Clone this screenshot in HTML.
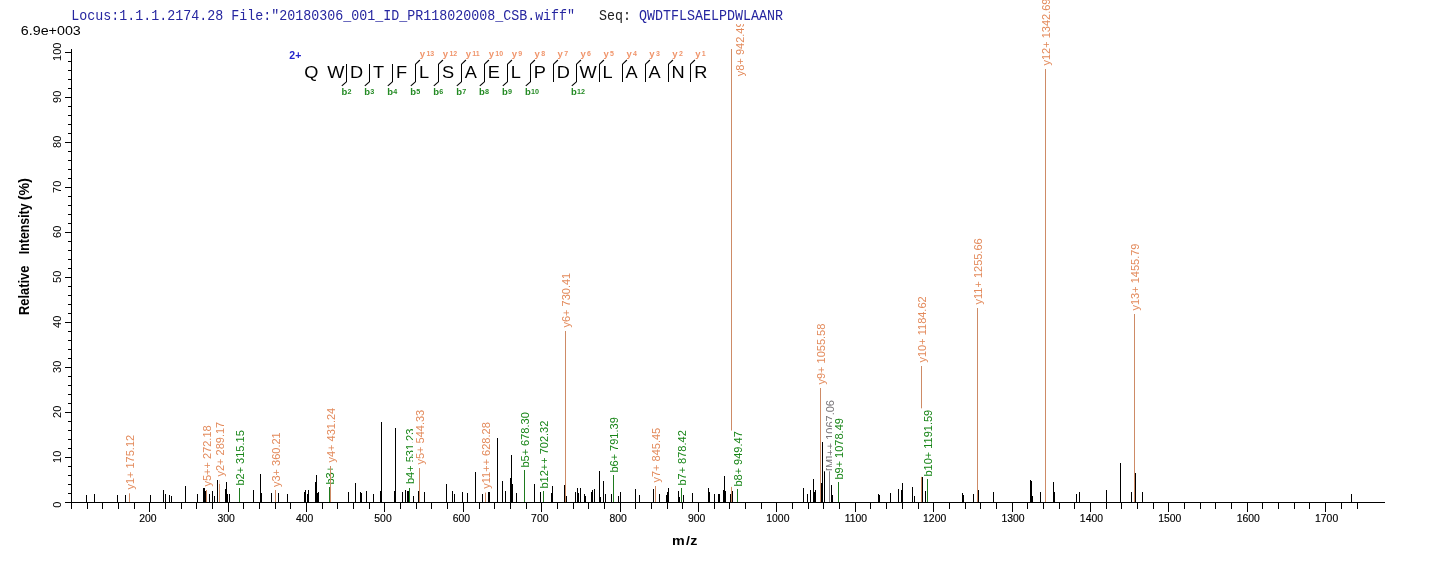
<!DOCTYPE html>
<html lang="en"><head><meta charset="utf-8"><title>Spectrum</title>
<style>html,body{margin:0;padding:0;background:#fff}body{width:1436px;height:562px;overflow:hidden}svg{display:block}text{font-family:"Liberation Sans",Arial,Helvetica,sans-serif}.mono{font-family:"Liberation Mono","Courier New",monospace;font-size:13.33px}.tk{font-size:11px;fill:#000}.lab{font-size:11px}.seq{font-size:15.9px;fill:#000}.yl{font-weight:bold;fill:#F0946A}.bl{font-weight:bold;fill:#238A23}</style></head><body>
<svg width="1436" height="562" viewBox="0 0 1436 562">
<rect width="1436" height="562" fill="#fff"/>
<g shape-rendering="crispEdges">
<rect x="86" y="495" width="1" height="7" fill="#000000"/>
<rect x="94" y="494" width="1" height="8" fill="#000000"/>
<rect x="117" y="495" width="1" height="7" fill="#000000"/>
<rect x="125" y="495" width="1" height="7" fill="#000000"/>
<rect x="150" y="495" width="1" height="7" fill="#000000"/>
<rect x="163" y="490" width="1" height="12" fill="#000000"/>
<rect x="165" y="494" width="1" height="8" fill="#000000"/>
<rect x="169" y="495" width="1" height="7" fill="#000000"/>
<rect x="171" y="496" width="1" height="6" fill="#000000"/>
<rect x="185" y="486" width="1" height="16" fill="#000000"/>
<rect x="197" y="494" width="1" height="8" fill="#000000"/>
<rect x="203" y="488" width="1" height="14" fill="#000000"/>
<rect x="204" y="488" width="1" height="14" fill="#000000"/>
<rect x="205" y="491" width="1" height="11" fill="#000000"/>
<rect x="209" y="494" width="1" height="8" fill="#000000"/>
<rect x="212" y="491" width="1" height="11" fill="#000000"/>
<rect x="214" y="496" width="1" height="6" fill="#000000"/>
<rect x="217" y="480" width="1" height="22" fill="#000000"/>
<rect x="225" y="489" width="1" height="13" fill="#000000"/>
<rect x="226" y="482" width="1" height="20" fill="#000000"/>
<rect x="227" y="494" width="1" height="8" fill="#000000"/>
<rect x="229" y="494" width="1" height="8" fill="#000000"/>
<rect x="253" y="490" width="1" height="12" fill="#000000"/>
<rect x="260" y="474" width="1" height="28" fill="#000000"/>
<rect x="261" y="493" width="1" height="9" fill="#000000"/>
<rect x="271" y="493" width="1" height="9" fill="#000000"/>
<rect x="278" y="493" width="1" height="9" fill="#000000"/>
<rect x="287" y="494" width="1" height="8" fill="#000000"/>
<rect x="304" y="492" width="1" height="10" fill="#000000"/>
<rect x="305" y="490" width="1" height="12" fill="#000000"/>
<rect x="307" y="494" width="1" height="8" fill="#000000"/>
<rect x="308" y="490" width="1" height="12" fill="#000000"/>
<rect x="315" y="482" width="1" height="20" fill="#000000"/>
<rect x="316" y="475" width="1" height="27" fill="#000000"/>
<rect x="317" y="493" width="1" height="9" fill="#000000"/>
<rect x="318" y="492" width="1" height="10" fill="#000000"/>
<rect x="348" y="492" width="1" height="10" fill="#000000"/>
<rect x="355" y="483" width="1" height="19" fill="#000000"/>
<rect x="360" y="492" width="1" height="10" fill="#000000"/>
<rect x="361" y="493" width="1" height="9" fill="#000000"/>
<rect x="366" y="491" width="1" height="11" fill="#000000"/>
<rect x="373" y="494" width="1" height="8" fill="#000000"/>
<rect x="380" y="491" width="1" height="11" fill="#000000"/>
<rect x="381" y="422" width="1" height="80" fill="#000000"/>
<rect x="394" y="491" width="1" height="11" fill="#000000"/>
<rect x="395" y="428" width="1" height="74" fill="#000000"/>
<rect x="402" y="492" width="1" height="10" fill="#000000"/>
<rect x="405" y="490" width="1" height="12" fill="#000000"/>
<rect x="407" y="491" width="1" height="11" fill="#000000"/>
<rect x="408" y="491" width="1" height="11" fill="#000000"/>
<rect x="413" y="496" width="1" height="6" fill="#000000"/>
<rect x="418" y="491" width="1" height="11" fill="#000000"/>
<rect x="424" y="492" width="1" height="10" fill="#000000"/>
<rect x="446" y="484" width="1" height="18" fill="#000000"/>
<rect x="452" y="491" width="1" height="11" fill="#000000"/>
<rect x="454" y="494" width="1" height="8" fill="#000000"/>
<rect x="462" y="492" width="1" height="10" fill="#000000"/>
<rect x="467" y="493" width="1" height="9" fill="#000000"/>
<rect x="475" y="472" width="1" height="30" fill="#000000"/>
<rect x="482" y="494" width="1" height="8" fill="#000000"/>
<rect x="488" y="492" width="1" height="10" fill="#000000"/>
<rect x="489" y="492" width="1" height="10" fill="#000000"/>
<rect x="497" y="438" width="1" height="64" fill="#000000"/>
<rect x="502" y="481" width="1" height="21" fill="#000000"/>
<rect x="505" y="491" width="1" height="11" fill="#000000"/>
<rect x="510" y="478" width="1" height="24" fill="#000000"/>
<rect x="511" y="455" width="1" height="47" fill="#000000"/>
<rect x="512" y="484" width="1" height="18" fill="#000000"/>
<rect x="516" y="493" width="1" height="9" fill="#000000"/>
<rect x="534" y="484" width="1" height="18" fill="#000000"/>
<rect x="540" y="492" width="1" height="10" fill="#000000"/>
<rect x="551" y="493" width="1" height="9" fill="#000000"/>
<rect x="552" y="486" width="1" height="16" fill="#000000"/>
<rect x="564" y="485" width="1" height="17" fill="#000000"/>
<rect x="566" y="496" width="1" height="6" fill="#000000"/>
<rect x="575" y="492" width="1" height="10" fill="#000000"/>
<rect x="577" y="488" width="1" height="14" fill="#000000"/>
<rect x="578" y="493" width="1" height="9" fill="#000000"/>
<rect x="580" y="488" width="1" height="14" fill="#000000"/>
<rect x="584" y="494" width="1" height="8" fill="#000000"/>
<rect x="585" y="496" width="1" height="6" fill="#000000"/>
<rect x="591" y="492" width="1" height="10" fill="#000000"/>
<rect x="592" y="490" width="1" height="12" fill="#000000"/>
<rect x="594" y="489" width="1" height="13" fill="#000000"/>
<rect x="599" y="471" width="1" height="31" fill="#000000"/>
<rect x="600" y="497" width="1" height="5" fill="#000000"/>
<rect x="603" y="481" width="1" height="21" fill="#000000"/>
<rect x="605" y="494" width="1" height="8" fill="#000000"/>
<rect x="611" y="494" width="1" height="8" fill="#000000"/>
<rect x="618" y="496" width="1" height="6" fill="#000000"/>
<rect x="620" y="492" width="1" height="10" fill="#000000"/>
<rect x="635" y="489" width="1" height="13" fill="#000000"/>
<rect x="639" y="495" width="1" height="7" fill="#000000"/>
<rect x="653" y="489" width="1" height="13" fill="#000000"/>
<rect x="659" y="494" width="1" height="8" fill="#000000"/>
<rect x="666" y="495" width="1" height="7" fill="#000000"/>
<rect x="667" y="492" width="1" height="10" fill="#000000"/>
<rect x="668" y="488" width="1" height="14" fill="#000000"/>
<rect x="678" y="491" width="1" height="11" fill="#000000"/>
<rect x="679" y="497" width="1" height="5" fill="#000000"/>
<rect x="683" y="495" width="1" height="7" fill="#000000"/>
<rect x="692" y="493" width="1" height="9" fill="#000000"/>
<rect x="708" y="488" width="1" height="14" fill="#000000"/>
<rect x="709" y="492" width="1" height="10" fill="#000000"/>
<rect x="714" y="494" width="1" height="8" fill="#000000"/>
<rect x="718" y="494" width="1" height="8" fill="#000000"/>
<rect x="719" y="494" width="1" height="8" fill="#000000"/>
<rect x="723" y="490" width="1" height="12" fill="#000000"/>
<rect x="724" y="476" width="1" height="26" fill="#000000"/>
<rect x="725" y="491" width="1" height="11" fill="#000000"/>
<rect x="730" y="494" width="1" height="8" fill="#000000"/>
<rect x="732" y="491" width="1" height="11" fill="#000000"/>
<rect x="803" y="488" width="1" height="14" fill="#000000"/>
<rect x="807" y="494" width="1" height="8" fill="#000000"/>
<rect x="810" y="490" width="1" height="12" fill="#000000"/>
<rect x="813" y="479" width="1" height="23" fill="#000000"/>
<rect x="814" y="492" width="1" height="10" fill="#000000"/>
<rect x="815" y="490" width="1" height="12" fill="#000000"/>
<rect x="821" y="483" width="1" height="19" fill="#000000"/>
<rect x="822" y="442" width="1" height="60" fill="#000000"/>
<rect x="824" y="471" width="1" height="31" fill="#000000"/>
<rect x="831" y="485" width="1" height="17" fill="#000000"/>
<rect x="832" y="495" width="1" height="7" fill="#000000"/>
<rect x="878" y="494" width="1" height="8" fill="#000000"/>
<rect x="879" y="495" width="1" height="7" fill="#000000"/>
<rect x="890" y="493" width="1" height="9" fill="#000000"/>
<rect x="898" y="489" width="1" height="13" fill="#000000"/>
<rect x="901" y="490" width="1" height="12" fill="#000000"/>
<rect x="902" y="483" width="1" height="19" fill="#000000"/>
<rect x="912" y="487" width="1" height="15" fill="#000000"/>
<rect x="914" y="496" width="1" height="6" fill="#000000"/>
<rect x="922" y="477" width="1" height="25" fill="#000000"/>
<rect x="925" y="491" width="1" height="11" fill="#000000"/>
<rect x="962" y="493" width="1" height="9" fill="#000000"/>
<rect x="963" y="495" width="1" height="7" fill="#000000"/>
<rect x="973" y="494" width="1" height="8" fill="#000000"/>
<rect x="978" y="490" width="1" height="12" fill="#000000"/>
<rect x="993" y="492" width="1" height="10" fill="#000000"/>
<rect x="1030" y="480" width="1" height="22" fill="#000000"/>
<rect x="1031" y="481" width="1" height="21" fill="#000000"/>
<rect x="1032" y="496" width="1" height="6" fill="#000000"/>
<rect x="1040" y="492" width="1" height="10" fill="#000000"/>
<rect x="1053" y="482" width="1" height="20" fill="#000000"/>
<rect x="1054" y="492" width="1" height="10" fill="#000000"/>
<rect x="1076" y="494" width="1" height="8" fill="#000000"/>
<rect x="1079" y="492" width="1" height="10" fill="#000000"/>
<rect x="1106" y="490" width="1" height="12" fill="#000000"/>
<rect x="1120" y="463" width="1" height="39" fill="#000000"/>
<rect x="1131" y="492" width="1" height="10" fill="#000000"/>
<rect x="1135" y="473" width="1" height="29" fill="#000000"/>
<rect x="1142" y="492" width="1" height="10" fill="#000000"/>
<rect x="1351" y="494" width="1" height="8" fill="#000000"/>
</g>
<g>
<rect x="129" y="493.3" width="1" height="8.7" fill="#CE8B66"/>
<rect x="123" y="434.164" width="13" height="55.736" fill="#fff"/>
<text class="lab" fill="#E38A5B" transform="translate(133.8 489.6) rotate(-90)">y1+ 175.12</text>
</g>
<g>
<rect x="206" y="490" width="1" height="12" fill="#CE8B66"/>
<rect x="200" y="424.64" width="13" height="62.16" fill="#fff"/>
<text class="lab" fill="#E38A5B" transform="translate(210.8 486.5) rotate(-90)">y5++ 272.18</text>
</g>
<g>
<rect x="219" y="480" width="1" height="22" fill="#CE8B66"/>
<rect x="219" y="480" width="1" height="4" fill="#EFD9D2"/>
<rect x="213" y="421.064" width="13" height="55.736" fill="#fff"/>
<text class="lab" fill="#E38A5B" transform="translate(223.8 476.5) rotate(-90)">y2+ 289.17</text>
</g>
<g>
<rect x="239" y="488" width="1" height="14" fill="#1E7A1E"/>
<rect x="233" y="429.548" width="13" height="56.352" fill="#fff"/>
<text class="lab" fill="#178517" transform="translate(243.8 485.6) rotate(-90)">b2+ 315.15</text>
</g>
<g>
<rect x="275" y="490" width="1" height="12" fill="#CE8B66"/>
<rect x="269" y="431.564" width="13" height="55.736" fill="#fff"/>
<text class="lab" fill="#E38A5B" transform="translate(279.8 487) rotate(-90)">y3+ 360.21</text>
</g>
<g>
<rect x="329" y="487" width="1" height="15" fill="#1E7A1E"/>
<rect x="323" y="465.244" width="13" height="19.656" fill="#fff"/>
<text class="lab" fill="#178517" transform="translate(333.8 484.6) rotate(-90)">b3+</text>
</g>
<g>
<rect x="330" y="466" width="1" height="36" fill="#CE8B66"/>
<rect x="324" y="407.064" width="13" height="55.736" fill="#fff"/>
<text class="lab" fill="#E38A5B" transform="translate(334.8 462.5) rotate(-90)">y4+ 431.24</text>
</g>
<g>
<rect x="409" y="488" width="1" height="14" fill="#1E7A1E"/>
<rect x="403" y="427.948" width="13" height="56.352" fill="#fff"/>
<text class="lab" fill="#178517" transform="translate(413.8 484) rotate(-90)">b4+ 531.23</text>
</g>
<g>
<rect x="419" y="468" width="1" height="34" fill="#CE8B66"/>
<rect x="413" y="409.064" width="13" height="55.736" fill="#fff"/>
<text class="lab" fill="#E38A5B" transform="translate(423.8 464.5) rotate(-90)">y5+ 544.33</text>
</g>
<g>
<rect x="485" y="492.6" width="1" height="9.4" fill="#CE8B66"/>
<rect x="479" y="420.724" width="13" height="68.276" fill="#fff"/>
<text class="lab" fill="#E38A5B" transform="translate(489.8 488.7) rotate(-90)">y11++ 628.28</text>
</g>
<g>
<rect x="524" y="470" width="1" height="32" fill="#1E7A1E"/>
<rect x="518" y="411.548" width="13" height="56.352" fill="#fff"/>
<text class="lab" fill="#178517" transform="translate(528.8 467.6) rotate(-90)">b5+ 678.30</text>
</g>
<g>
<rect x="543" y="491" width="1" height="11" fill="#1E7A1E"/>
<rect x="537" y="420.008" width="13" height="68.892" fill="#fff"/>
<text class="lab" fill="#178517" transform="translate(547.8 488.6) rotate(-90)">b12++ 702.32</text>
</g>
<g>
<rect x="565" y="331" width="1" height="171" fill="#CE8B66"/>
<rect x="559" y="272.064" width="13" height="55.736" fill="#fff"/>
<text class="lab" fill="#E38A5B" transform="translate(569.8 327.5) rotate(-90)">y6+ 730.41</text>
</g>
<g>
<rect x="613" y="475" width="1" height="27" fill="#1E7A1E"/>
<rect x="607" y="416.548" width="13" height="56.352" fill="#fff"/>
<text class="lab" fill="#178517" transform="translate(617.8 472.6) rotate(-90)">b6+ 791.39</text>
</g>
<g>
<rect x="655" y="486" width="1" height="16" fill="#CE8B66"/>
<rect x="649" y="427.064" width="13" height="55.736" fill="#fff"/>
<text class="lab" fill="#E38A5B" transform="translate(659.8 482.5) rotate(-90)">y7+ 845.45</text>
</g>
<g>
<rect x="681" y="488" width="1" height="14" fill="#1E7A1E"/>
<rect x="675" y="429.548" width="13" height="56.352" fill="#fff"/>
<text class="lab" fill="#178517" transform="translate(685.8 485.6) rotate(-90)">b7+ 878.42</text>
</g>
<g>
<rect x="731" y="49" width="1" height="453" fill="#CE8B66"/>
<rect x="733" y="20.764" width="13" height="55.736" fill="#fff"/>
<text class="lab" fill="#E38A5B" transform="translate(743.6 76.2) rotate(-90)">y8+ 942.49</text>
</g>
<g>
<rect x="737" y="489" width="1" height="13" fill="#1E7A1E"/>
<rect x="731" y="430.548" width="13" height="56.352" fill="#fff"/>
<text class="lab" fill="#178517" transform="translate(741.8 486.6) rotate(-90)">b8+ 949.47</text>
</g>
<g>
<rect x="820" y="388" width="1" height="114" fill="#CE8B66"/>
<rect x="814" y="322.948" width="13" height="61.852" fill="#fff"/>
<text class="lab" fill="#E38A5B" transform="translate(824.8 384.5) rotate(-90)">y9+ 1055.58</text>
</g>
<g>
<rect x="829" y="471" width="1" height="31" fill="#858085"/>
<rect x="823" y="399.361" width="13" height="71.939" fill="#fff"/>
<text class="lab" fill="#7A767A" transform="translate(833.8 471) rotate(-90)">[M]++ 1067.06</text>
</g>
<g>
<rect x="838" y="482" width="1" height="20" fill="#1E7A1E"/>
<rect x="832" y="417.432" width="13" height="62.468" fill="#fff"/>
<text class="lab" fill="#178517" transform="translate(842.8 479.6) rotate(-90)">b9+ 1078.49</text>
</g>
<g>
<rect x="921" y="366" width="1" height="136" fill="#CE8B66"/>
<rect x="915" y="294.832" width="13" height="67.968" fill="#fff"/>
<text class="lab" fill="#E38A5B" transform="translate(925.8 362.5) rotate(-90)">y10+ 1184.62</text>
</g>
<g>
<rect x="927" y="479" width="1" height="23" fill="#1E7A1E"/>
<rect x="921" y="408.316" width="13" height="68.584" fill="#fff"/>
<text class="lab" fill="#178517" transform="translate(931.8 476.6) rotate(-90)">b10+ 1191.59</text>
</g>
<g>
<rect x="977" y="308" width="1" height="194" fill="#CE8B66"/>
<rect x="971" y="236.832" width="13" height="67.968" fill="#fff"/>
<text class="lab" fill="#E38A5B" transform="translate(981.8 304.5) rotate(-90)">y11+ 1255.66</text>
</g>
<g>
<rect x="1045" y="69" width="1" height="433" fill="#CE8B66"/>
<rect x="1039" y="-2.168" width="13" height="67.968" fill="#fff"/>
<text class="lab" fill="#E38A5B" transform="translate(1049.8 65.5) rotate(-90)">y12+ 1342.69</text>
</g>
<g>
<rect x="1134" y="314" width="1" height="188" fill="#CE8B66"/>
<rect x="1128" y="242.832" width="13" height="67.968" fill="#fff"/>
<text class="lab" fill="#E38A5B" transform="translate(1138.8 310.5) rotate(-90)">y13+ 1455.79</text>
</g>
<rect x="60" y="0" width="740" height="24" fill="#fff"/>
<text class="mono" transform="translate(71.3 19.8) scale(1 1.13)" fill="#2626A0" xml:space="preserve">Locus:1.1.1.2174.28 File:"20180306_001_ID_PR118020008_CSB.wiff"   <tspan fill="#222">Seq:</tspan> QWDTFLSAELPDWLAANR</text>
<text x="20.8" y="35.1" font-size="13px" fill="#000" textLength="60" lengthAdjust="spacingAndGlyphs">6.9e+003</text>
<g shape-rendering="crispEdges" fill="#000">
<rect x="65" y="502" width="1320" height="1"/>
<rect x="71" y="49" width="1" height="460"/>
<rect x="87" y="502" width="1" height="7"/>
<rect x="102" y="502" width="1" height="7"/>
<rect x="118" y="502" width="1" height="7"/>
<rect x="134" y="502" width="1" height="7"/>
<rect x="149" y="502" width="1" height="10"/>
<rect x="165" y="502" width="1" height="7"/>
<rect x="181" y="502" width="1" height="7"/>
<rect x="196" y="502" width="1" height="7"/>
<rect x="212" y="502" width="1" height="7"/>
<rect x="228" y="502" width="1" height="10"/>
<rect x="243" y="502" width="1" height="7"/>
<rect x="259" y="502" width="1" height="7"/>
<rect x="275" y="502" width="1" height="7"/>
<rect x="290" y="502" width="1" height="7"/>
<rect x="306" y="502" width="1" height="10"/>
<rect x="322" y="502" width="1" height="7"/>
<rect x="337" y="502" width="1" height="7"/>
<rect x="353" y="502" width="1" height="7"/>
<rect x="369" y="502" width="1" height="7"/>
<rect x="384" y="502" width="1" height="10"/>
<rect x="400" y="502" width="1" height="7"/>
<rect x="416" y="502" width="1" height="7"/>
<rect x="431" y="502" width="1" height="7"/>
<rect x="447" y="502" width="1" height="7"/>
<rect x="463" y="502" width="1" height="10"/>
<rect x="479" y="502" width="1" height="7"/>
<rect x="494" y="502" width="1" height="7"/>
<rect x="510" y="502" width="1" height="7"/>
<rect x="526" y="502" width="1" height="7"/>
<rect x="541" y="502" width="1" height="10"/>
<rect x="557" y="502" width="1" height="7"/>
<rect x="573" y="502" width="1" height="7"/>
<rect x="588" y="502" width="1" height="7"/>
<rect x="604" y="502" width="1" height="7"/>
<rect x="620" y="502" width="1" height="10"/>
<rect x="635" y="502" width="1" height="7"/>
<rect x="651" y="502" width="1" height="7"/>
<rect x="667" y="502" width="1" height="7"/>
<rect x="682" y="502" width="1" height="7"/>
<rect x="698" y="502" width="1" height="10"/>
<rect x="714" y="502" width="1" height="7"/>
<rect x="729" y="502" width="1" height="7"/>
<rect x="745" y="502" width="1" height="7"/>
<rect x="761" y="502" width="1" height="7"/>
<rect x="776" y="502" width="1" height="10"/>
<rect x="792" y="502" width="1" height="7"/>
<rect x="808" y="502" width="1" height="7"/>
<rect x="823" y="502" width="1" height="7"/>
<rect x="839" y="502" width="1" height="7"/>
<rect x="855" y="502" width="1" height="10"/>
<rect x="870" y="502" width="1" height="7"/>
<rect x="886" y="502" width="1" height="7"/>
<rect x="902" y="502" width="1" height="7"/>
<rect x="918" y="502" width="1" height="7"/>
<rect x="933" y="502" width="1" height="10"/>
<rect x="949" y="502" width="1" height="7"/>
<rect x="965" y="502" width="1" height="7"/>
<rect x="980" y="502" width="1" height="7"/>
<rect x="996" y="502" width="1" height="7"/>
<rect x="1012" y="502" width="1" height="10"/>
<rect x="1027" y="502" width="1" height="7"/>
<rect x="1043" y="502" width="1" height="7"/>
<rect x="1059" y="502" width="1" height="7"/>
<rect x="1074" y="502" width="1" height="7"/>
<rect x="1090" y="502" width="1" height="10"/>
<rect x="1106" y="502" width="1" height="7"/>
<rect x="1121" y="502" width="1" height="7"/>
<rect x="1137" y="502" width="1" height="7"/>
<rect x="1153" y="502" width="1" height="7"/>
<rect x="1168" y="502" width="1" height="10"/>
<rect x="1184" y="502" width="1" height="7"/>
<rect x="1200" y="502" width="1" height="7"/>
<rect x="1215" y="502" width="1" height="7"/>
<rect x="1231" y="502" width="1" height="7"/>
<rect x="1247" y="502" width="1" height="10"/>
<rect x="1262" y="502" width="1" height="7"/>
<rect x="1278" y="502" width="1" height="7"/>
<rect x="1294" y="502" width="1" height="7"/>
<rect x="1309" y="502" width="1" height="7"/>
<rect x="1325" y="502" width="1" height="10"/>
<rect x="1341" y="502" width="1" height="7"/>
<rect x="1357" y="502" width="1" height="7"/>
<rect x="68" y="493" width="3" height="1"/>
<rect x="68" y="484" width="3" height="1"/>
<rect x="68" y="475" width="3" height="1"/>
<rect x="68" y="466" width="3" height="1"/>
<rect x="65" y="457" width="6" height="1"/>
<rect x="68" y="448" width="3" height="1"/>
<rect x="68" y="439" width="3" height="1"/>
<rect x="68" y="430" width="3" height="1"/>
<rect x="68" y="421" width="3" height="1"/>
<rect x="65" y="412" width="6" height="1"/>
<rect x="68" y="403" width="3" height="1"/>
<rect x="68" y="394" width="3" height="1"/>
<rect x="68" y="385" width="3" height="1"/>
<rect x="68" y="376" width="3" height="1"/>
<rect x="65" y="367" width="6" height="1"/>
<rect x="68" y="358" width="3" height="1"/>
<rect x="68" y="349" width="3" height="1"/>
<rect x="68" y="340" width="3" height="1"/>
<rect x="68" y="331" width="3" height="1"/>
<rect x="65" y="322" width="6" height="1"/>
<rect x="68" y="313" width="3" height="1"/>
<rect x="68" y="304" width="3" height="1"/>
<rect x="68" y="295" width="3" height="1"/>
<rect x="68" y="286" width="3" height="1"/>
<rect x="65" y="277" width="6" height="1"/>
<rect x="68" y="268" width="3" height="1"/>
<rect x="68" y="259" width="3" height="1"/>
<rect x="68" y="250" width="3" height="1"/>
<rect x="68" y="241" width="3" height="1"/>
<rect x="65" y="232" width="6" height="1"/>
<rect x="68" y="223" width="3" height="1"/>
<rect x="68" y="214" width="3" height="1"/>
<rect x="68" y="205" width="3" height="1"/>
<rect x="68" y="196" width="3" height="1"/>
<rect x="65" y="187" width="6" height="1"/>
<rect x="68" y="178" width="3" height="1"/>
<rect x="68" y="169" width="3" height="1"/>
<rect x="68" y="160" width="3" height="1"/>
<rect x="68" y="151" width="3" height="1"/>
<rect x="65" y="142" width="6" height="1"/>
<rect x="68" y="133" width="3" height="1"/>
<rect x="68" y="124" width="3" height="1"/>
<rect x="68" y="115" width="3" height="1"/>
<rect x="68" y="106" width="3" height="1"/>
<rect x="65" y="97" width="6" height="1"/>
<rect x="68" y="88" width="3" height="1"/>
<rect x="68" y="79" width="3" height="1"/>
<rect x="68" y="70" width="3" height="1"/>
<rect x="68" y="61" width="3" height="1"/>
<rect x="65" y="52" width="6" height="1"/>
</g>
<text class="tk" style="font-size:10.2px;stroke:#000;stroke-width:0.15px" transform="translate(139.15 521.7) scale(1.02 1)">200</text>
<text class="tk" style="font-size:10.2px;stroke:#000;stroke-width:0.15px" transform="translate(217.543 521.7) scale(1.02 1)">300</text>
<text class="tk" style="font-size:10.2px;stroke:#000;stroke-width:0.15px" transform="translate(295.936 521.7) scale(1.02 1)">400</text>
<text class="tk" style="font-size:10.2px;stroke:#000;stroke-width:0.15px" transform="translate(374.329 521.7) scale(1.02 1)">500</text>
<text class="tk" style="font-size:10.2px;stroke:#000;stroke-width:0.15px" transform="translate(452.722 521.7) scale(1.02 1)">600</text>
<text class="tk" style="font-size:10.2px;stroke:#000;stroke-width:0.15px" transform="translate(531.115 521.7) scale(1.02 1)">700</text>
<text class="tk" style="font-size:10.2px;stroke:#000;stroke-width:0.15px" transform="translate(609.508 521.7) scale(1.02 1)">800</text>
<text class="tk" style="font-size:10.2px;stroke:#000;stroke-width:0.15px" transform="translate(687.901 521.7) scale(1.02 1)">900</text>
<text class="tk" style="font-size:10.2px;stroke:#000;stroke-width:0.15px" transform="translate(766.294 521.7) scale(1.02 1)">1000</text>
<text class="tk" style="font-size:10.2px;stroke:#000;stroke-width:0.15px" transform="translate(844.687 521.7) scale(1.02 1)">1100</text>
<text class="tk" style="font-size:10.2px;stroke:#000;stroke-width:0.15px" transform="translate(923.08 521.7) scale(1.02 1)">1200</text>
<text class="tk" style="font-size:10.2px;stroke:#000;stroke-width:0.15px" transform="translate(1001.47 521.7) scale(1.02 1)">1300</text>
<text class="tk" style="font-size:10.2px;stroke:#000;stroke-width:0.15px" transform="translate(1079.87 521.7) scale(1.02 1)">1400</text>
<text class="tk" style="font-size:10.2px;stroke:#000;stroke-width:0.15px" transform="translate(1158.26 521.7) scale(1.02 1)">1500</text>
<text class="tk" style="font-size:10.2px;stroke:#000;stroke-width:0.15px" transform="translate(1236.65 521.7) scale(1.02 1)">1600</text>
<text class="tk" style="font-size:10.2px;stroke:#000;stroke-width:0.15px" transform="translate(1315.05 521.7) scale(1.02 1)">1700</text>
<text class="tk" transform="translate(60.6 504.8) rotate(-90)" text-anchor="middle">0</text>
<text class="tk" transform="translate(60.6 456.8) rotate(-90)" text-anchor="middle">10</text>
<text class="tk" transform="translate(60.6 411.8) rotate(-90)" text-anchor="middle">20</text>
<text class="tk" transform="translate(60.6 366.8) rotate(-90)" text-anchor="middle">30</text>
<text class="tk" transform="translate(60.6 321.8) rotate(-90)" text-anchor="middle">40</text>
<text class="tk" transform="translate(60.6 276.8) rotate(-90)" text-anchor="middle">50</text>
<text class="tk" transform="translate(60.6 231.8) rotate(-90)" text-anchor="middle">60</text>
<text class="tk" transform="translate(60.6 186.8) rotate(-90)" text-anchor="middle">70</text>
<text class="tk" transform="translate(60.6 141.8) rotate(-90)" text-anchor="middle">80</text>
<text class="tk" transform="translate(60.6 96.8) rotate(-90)" text-anchor="middle">90</text>
<text class="tk" transform="translate(60.6 51.8) rotate(-90)" text-anchor="middle">100</text>
<g font-size="13px" font-weight="bold" fill="#000">
<text transform="translate(28.8 315) rotate(-90) scale(1 1.15)" textLength="49.4" lengthAdjust="spacingAndGlyphs">Relative</text>
<text transform="translate(28.8 254.2) rotate(-90) scale(1 1.15)" textLength="50.8" lengthAdjust="spacingAndGlyphs">Intensity</text>
<text transform="translate(28.8 200.3) rotate(-90) scale(1 1.15)" textLength="22.2" lengthAdjust="spacingAndGlyphs">(%)</text>
</g>
<text font-size="13px" font-weight="bold" fill="#000" transform="translate(672 544.9) scale(1.1 1)" x="0 12.7 16.6">m/z</text>
<text class="seq" x="0" y="77.9" transform="translate(304.2 0) scale(1.145 1) translate(0 0)">Q</text>
<text class="seq" x="0" y="77.9" transform="translate(327.15 0) scale(1.145 1) translate(0 0)">W</text>
<text class="seq" x="0" y="77.9" transform="translate(350.1 0) scale(1.145 1) translate(0 0)">D</text>
<text class="seq" x="0" y="77.9" transform="translate(373.05 0) scale(1.145 1) translate(0 0)">T</text>
<text class="seq" x="0" y="77.9" transform="translate(396 0) scale(1.145 1) translate(0 0)">F</text>
<text class="seq" x="0" y="77.9" transform="translate(418.95 0) scale(1.145 1) translate(0 0)">L</text>
<text class="seq" x="0" y="77.9" transform="translate(441.9 0) scale(1.145 1) translate(0 0)">S</text>
<text class="seq" x="0" y="77.9" transform="translate(464.85 0) scale(1.145 1) translate(0 0)">A</text>
<text class="seq" x="0" y="77.9" transform="translate(487.8 0) scale(1.145 1) translate(0 0)">E</text>
<text class="seq" x="0" y="77.9" transform="translate(510.75 0) scale(1.145 1) translate(0 0)">L</text>
<text class="seq" x="0" y="77.9" transform="translate(533.7 0) scale(1.145 1) translate(0 0)">P</text>
<text class="seq" x="0" y="77.9" transform="translate(556.65 0) scale(1.145 1) translate(0 0)">D</text>
<text class="seq" x="0" y="77.9" transform="translate(579.6 0) scale(1.145 1) translate(0 0)">W</text>
<text class="seq" x="0" y="77.9" transform="translate(602.55 0) scale(1.145 1) translate(0 0)">L</text>
<text class="seq" x="0" y="77.9" transform="translate(625.5 0) scale(1.145 1) translate(0 0)">A</text>
<text class="seq" x="0" y="77.9" transform="translate(648.45 0) scale(1.145 1) translate(0 0)">A</text>
<text class="seq" x="0" y="77.9" transform="translate(671.4 0) scale(1.145 1) translate(0 0)">N</text>
<text class="seq" x="0" y="77.9" transform="translate(694.35 0) scale(1.145 1) translate(0 0)">R</text>
<text x="289.3" y="59" font-size="10.5px" font-weight="bold" fill="#2222CC">2+</text>
<rect shape-rendering="crispEdges" x="346" y="64" width="1" height="18" fill="#000"/>
<line x1="346.4" y1="81.8" x2="341.8" y2="85.9" stroke="#000" stroke-width="1.1"/>
<text class="bl" x="341.4" y="95" font-size="9.5px">b<tspan font-size="7.2px" dy="-0.6" dx="0.2">2</tspan></text>
<rect shape-rendering="crispEdges" x="369" y="64" width="1" height="18" fill="#000"/>
<line x1="369.4" y1="81.8" x2="364.8" y2="85.9" stroke="#000" stroke-width="1.1"/>
<text class="bl" x="364.35" y="95" font-size="9.5px">b<tspan font-size="7.2px" dy="-0.6" dx="0.2">3</tspan></text>
<rect shape-rendering="crispEdges" x="392" y="64" width="1" height="18" fill="#000"/>
<line x1="392.4" y1="81.8" x2="387.8" y2="85.9" stroke="#000" stroke-width="1.1"/>
<text class="bl" x="387.3" y="95" font-size="9.5px">b<tspan font-size="7.2px" dy="-0.6" dx="0.2">4</tspan></text>
<rect shape-rendering="crispEdges" x="415" y="64" width="1" height="18" fill="#000"/>
<line x1="415.6" y1="64.2" x2="419.9" y2="60" stroke="#000" stroke-width="1.1"/>
<line x1="415.4" y1="81.8" x2="410.8" y2="85.9" stroke="#000" stroke-width="1.1"/>
<text class="yl" x="419.85" y="56.5" font-size="9.5px">y<tspan font-size="7px" dy="-0.6" dx="1.3">13</tspan></text>
<text class="bl" x="410.25" y="95" font-size="9.5px">b<tspan font-size="7.2px" dy="-0.6" dx="0.2">5</tspan></text>
<rect shape-rendering="crispEdges" x="438" y="64" width="1" height="18" fill="#000"/>
<line x1="438.6" y1="64.2" x2="442.9" y2="60" stroke="#000" stroke-width="1.1"/>
<line x1="438.4" y1="81.8" x2="433.8" y2="85.9" stroke="#000" stroke-width="1.1"/>
<text class="yl" x="442.8" y="56.5" font-size="9.5px">y<tspan font-size="7px" dy="-0.6" dx="1.3">12</tspan></text>
<text class="bl" x="433.2" y="95" font-size="9.5px">b<tspan font-size="7.2px" dy="-0.6" dx="0.2">6</tspan></text>
<rect shape-rendering="crispEdges" x="461" y="64" width="1" height="18" fill="#000"/>
<line x1="461.6" y1="64.2" x2="465.9" y2="60" stroke="#000" stroke-width="1.1"/>
<line x1="461.4" y1="81.8" x2="456.8" y2="85.9" stroke="#000" stroke-width="1.1"/>
<text class="yl" x="465.75" y="56.5" font-size="9.5px">y<tspan font-size="7px" dy="-0.6" dx="1.3">11</tspan></text>
<text class="bl" x="456.15" y="95" font-size="9.5px">b<tspan font-size="7.2px" dy="-0.6" dx="0.2">7</tspan></text>
<rect shape-rendering="crispEdges" x="484" y="64" width="1" height="18" fill="#000"/>
<line x1="484.6" y1="64.2" x2="488.9" y2="60" stroke="#000" stroke-width="1.1"/>
<line x1="484.4" y1="81.8" x2="479.8" y2="85.9" stroke="#000" stroke-width="1.1"/>
<text class="yl" x="488.7" y="56.5" font-size="9.5px">y<tspan font-size="7px" dy="-0.6" dx="1.3">10</tspan></text>
<text class="bl" x="479.1" y="95" font-size="9.5px">b<tspan font-size="7.2px" dy="-0.6" dx="0.2">8</tspan></text>
<rect shape-rendering="crispEdges" x="507" y="64" width="1" height="18" fill="#000"/>
<line x1="507.6" y1="64.2" x2="511.9" y2="60" stroke="#000" stroke-width="1.1"/>
<line x1="507.4" y1="81.8" x2="502.8" y2="85.9" stroke="#000" stroke-width="1.1"/>
<text class="yl" x="511.65" y="56.5" font-size="9.5px">y<tspan font-size="7px" dy="-0.6" dx="1.3">9</tspan></text>
<text class="bl" x="502.05" y="95" font-size="9.5px">b<tspan font-size="7.2px" dy="-0.6" dx="0.2">9</tspan></text>
<rect shape-rendering="crispEdges" x="530" y="64" width="1" height="18" fill="#000"/>
<line x1="530.6" y1="64.2" x2="534.9" y2="60" stroke="#000" stroke-width="1.1"/>
<line x1="530.4" y1="81.8" x2="525.8" y2="85.9" stroke="#000" stroke-width="1.1"/>
<text class="yl" x="534.6" y="56.5" font-size="9.5px">y<tspan font-size="7px" dy="-0.6" dx="1.3">8</tspan></text>
<text class="bl" x="525" y="95" font-size="9.5px">b<tspan font-size="7.2px" dy="-0.6" dx="0.2">10</tspan></text>
<rect shape-rendering="crispEdges" x="553" y="64" width="1" height="18" fill="#000"/>
<line x1="553.6" y1="64.2" x2="557.9" y2="60" stroke="#000" stroke-width="1.1"/>
<text class="yl" x="557.55" y="56.5" font-size="9.5px">y<tspan font-size="7px" dy="-0.6" dx="1.3">7</tspan></text>
<rect shape-rendering="crispEdges" x="576" y="64" width="1" height="18" fill="#000"/>
<line x1="576.6" y1="64.2" x2="580.9" y2="60" stroke="#000" stroke-width="1.1"/>
<line x1="576.4" y1="81.8" x2="571.8" y2="85.9" stroke="#000" stroke-width="1.1"/>
<text class="yl" x="580.5" y="56.5" font-size="9.5px">y<tspan font-size="7px" dy="-0.6" dx="1.3">6</tspan></text>
<text class="bl" x="570.9" y="95" font-size="9.5px">b<tspan font-size="7.2px" dy="-0.6" dx="0.2">12</tspan></text>
<rect shape-rendering="crispEdges" x="599" y="64" width="1" height="18" fill="#000"/>
<line x1="599.6" y1="64.2" x2="603.9" y2="60" stroke="#000" stroke-width="1.1"/>
<text class="yl" x="603.45" y="56.5" font-size="9.5px">y<tspan font-size="7px" dy="-0.6" dx="1.3">5</tspan></text>
<rect shape-rendering="crispEdges" x="622" y="64" width="1" height="18" fill="#000"/>
<line x1="622.6" y1="64.2" x2="626.9" y2="60" stroke="#000" stroke-width="1.1"/>
<text class="yl" x="626.4" y="56.5" font-size="9.5px">y<tspan font-size="7px" dy="-0.6" dx="1.3">4</tspan></text>
<rect shape-rendering="crispEdges" x="645" y="64" width="1" height="18" fill="#000"/>
<line x1="645.6" y1="64.2" x2="649.9" y2="60" stroke="#000" stroke-width="1.1"/>
<text class="yl" x="649.35" y="56.5" font-size="9.5px">y<tspan font-size="7px" dy="-0.6" dx="1.3">3</tspan></text>
<rect shape-rendering="crispEdges" x="668" y="64" width="1" height="18" fill="#000"/>
<line x1="668.6" y1="64.2" x2="672.9" y2="60" stroke="#000" stroke-width="1.1"/>
<text class="yl" x="672.3" y="56.5" font-size="9.5px">y<tspan font-size="7px" dy="-0.6" dx="1.3">2</tspan></text>
<rect shape-rendering="crispEdges" x="690" y="64" width="1" height="18" fill="#000"/>
<line x1="690.6" y1="64.2" x2="694.9" y2="60" stroke="#000" stroke-width="1.1"/>
<text class="yl" x="695.25" y="56.5" font-size="9.5px">y<tspan font-size="7px" dy="-0.6" dx="1.3">1</tspan></text>
</svg></body></html>
